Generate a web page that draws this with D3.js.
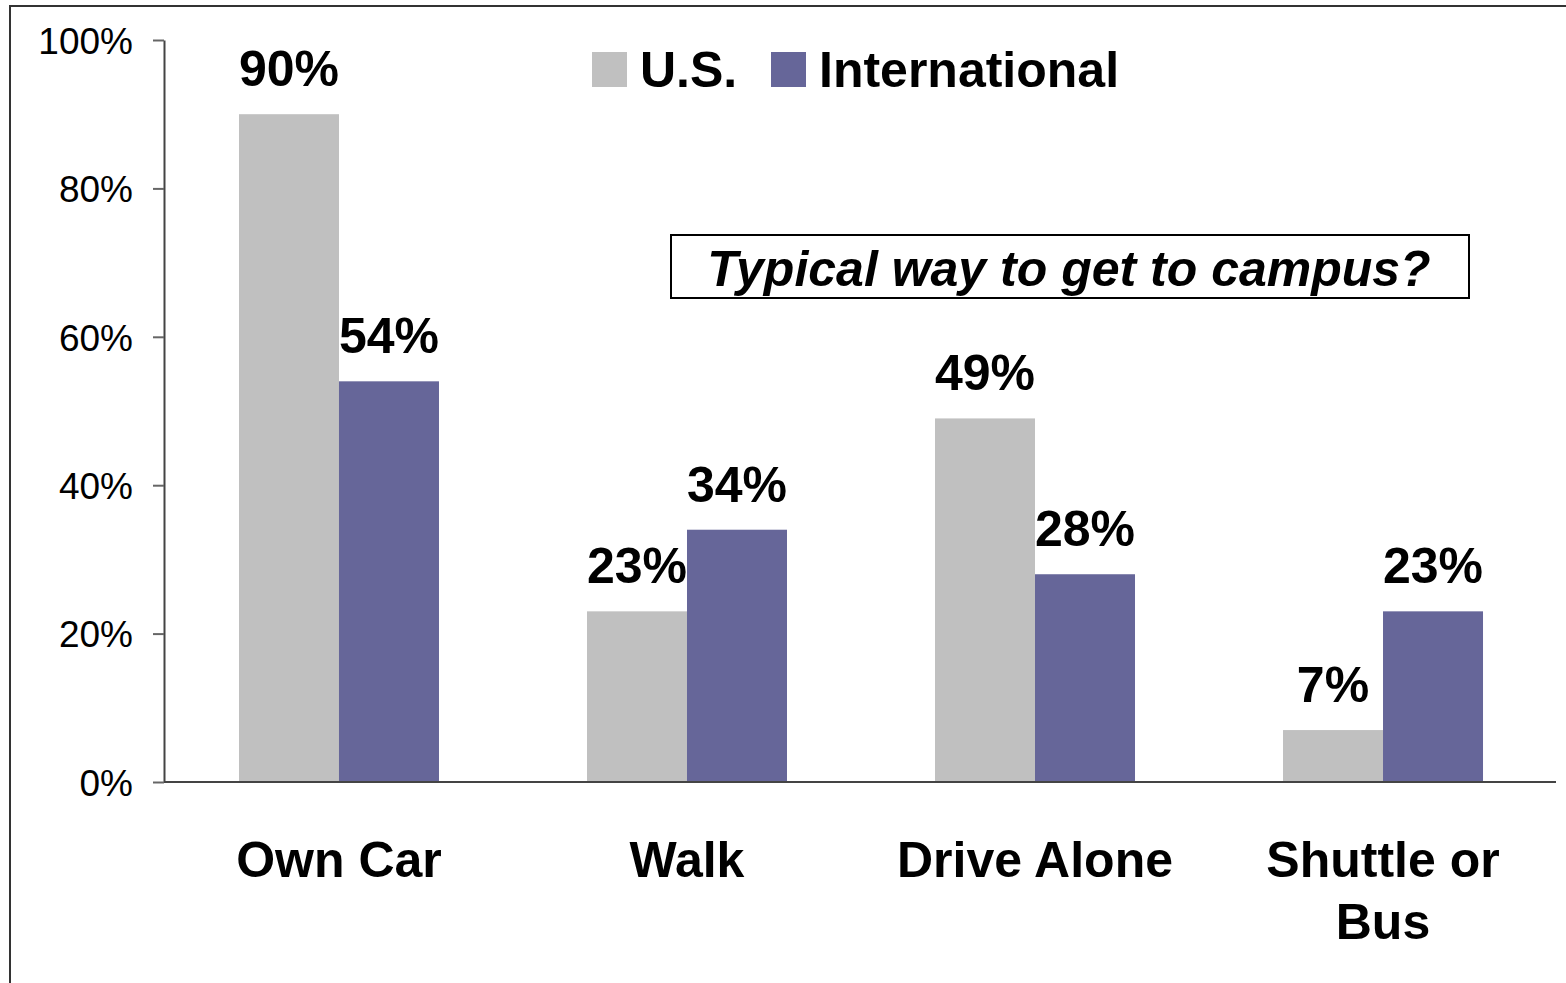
<html>
<head>
<meta charset="utf-8">
<script src="https://d3js.org/d3.v7.min.js"></script>
<style>
  body { margin: 0; background: #fff; }
  text { font-family: "Liberation Sans", Arial, sans-serif; }
</style>
</head>
<body>
<svg id="chart" width="1566" height="983"></svg>
<script>
// data
var categories = ["Own Car", "Walk", "Drive Alone", "Shuttle or\nBus"];
var seriesNames = ["U.S.", "International"];
var usValues = [90, 23, 49, 7];
var intlValues = [54, 34, 28, 23];
var yTicks = [0, 20, 40, 60, 80, 100];
var note = "Typical way to get to campus?";

var colors = ["#c0c0c0", "#666699"];
var svg = d3.select("#chart");

// outer frame (only left and top edges show in the picture)
svg.append("rect")
  .attr("x", 10).attr("y", 6)
  .attr("width", 1600).attr("height", 1000)
  .attr("fill", "none").attr("stroke", "#333").attr("stroke-width", 2);

var x = d3.scaleBand().domain(categories).range([165, 1557])
  .paddingInner(0.4253).paddingOuter(0.2126);
var xs = d3.scaleBand().domain(seriesNames).range([0, x.bandwidth()]);
var y = d3.scaleLinear().domain([0, 100]).range([782, 40]);

var rows = categories.map(function(c, i) {
  return {cat: c, vals: [usValues[i], intlValues[i]]};
});

var groups = svg.append("g").selectAll("g").data(rows).enter().append("g")
  .attr("transform", function(d) { return "translate(" + x(d.cat) + ",0)"; });

groups.selectAll("rect").data(function(d) { return d.vals; }).enter().append("rect")
  .attr("x", function(d, i) { return xs(seriesNames[i]); })
  .attr("y", function(d) { return y(d); })
  .attr("width", xs.bandwidth())
  .attr("height", function(d) { return y(0) - y(d); })
  .attr("fill", function(d, i) { return colors[i]; });

groups.selectAll("text.val").data(function(d) { return d.vals; }).enter().append("text")
  .attr("class", "val")
  .attr("x", function(d, i) { return xs(seriesNames[i]) + xs.bandwidth() / 2; })
  .attr("y", function(d) { return y(d) - 28; })
  .attr("text-anchor", "middle")
  .style("font-size", "50px").style("font-weight", "bold")
  .text(function(d) { return d + "%"; });

// y axis
var yAxis = svg.append("g").attr("transform", "translate(164,0)")
  .call(d3.axisLeft(y).tickValues(yTicks).tickSize(11).tickSizeOuter(0).tickPadding(20)
    .tickFormat(function(d) { return d + "%"; }));
yAxis.select(".domain").attr("stroke", "#444").attr("stroke-width", 2);
yAxis.selectAll(".tick line").attr("stroke", "#666").attr("stroke-width", 2);
yAxis.selectAll(".tick text").attr("fill", "#000")
  .style("font-size", "37px").attr("dy", "0.36em")
  .style("font-family", "'Liberation Sans', Arial, sans-serif");

// x axis baseline
svg.append("line")
  .attr("x1", 164).attr("x2", 1556)
  .attr("y1", y(0)).attr("y2", y(0))
  .attr("stroke", "#444").attr("stroke-width", 2);

// category labels
svg.append("g").selectAll("text").data(categories).enter().append("text")
  .attr("x", function(d) { return x(d) + x.bandwidth() / 2; })
  .attr("y", 877)
  .attr("text-anchor", "middle")
  .style("font-size", "50px").style("font-weight", "bold")
  .each(function(d) {
    var t = d3.select(this);
    d.split("\n").forEach(function(line, i) {
      t.append("tspan").attr("x", x(d) + x.bandwidth() / 2)
        .attr("dy", i === 0 ? 0 : 62).text(line);
    });
  });

// legend
var legendX = [592, 771];
var legend = svg.append("g").selectAll("g").data(seriesNames).enter().append("g")
  .attr("transform", function(d, i) { return "translate(" + legendX[i] + ",52)"; });
legend.append("rect").attr("width", 35).attr("height", 35)
  .attr("fill", function(d, i) { return colors[i]; });
legend.append("text").attr("x", 48).attr("y", 35)
  .style("font-size", "50px").style("font-weight", "bold")
  .text(function(d) { return d; });

// note box
svg.append("rect")
  .attr("x", 671).attr("y", 235).attr("width", 798).attr("height", 63)
  .attr("fill", "#fff").attr("stroke", "#000").attr("stroke-width", 2);
svg.append("text")
  .attr("x", 1069).attr("y", 286)
  .attr("text-anchor", "middle")
  .style("font-size", "50px").style("font-weight", "bold").style("font-style", "italic")
  .text(note);
</script>
</body>
</html>
